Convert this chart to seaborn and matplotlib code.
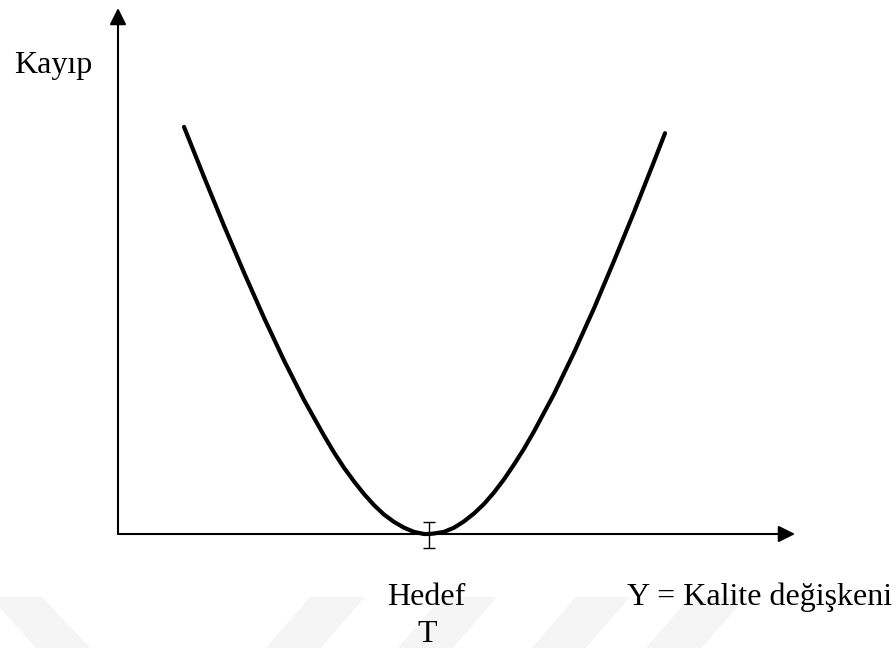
import numpy as np
import pandas as pd
import matplotlib
matplotlib.use("Agg")
import matplotlib.pyplot as plt
from matplotlib.patches import Polygon
import seaborn as sns

# ---- data (x: quality variable, y: loss) ----
target_x = 4.594
curve_x = [0.975, 1.270, 1.566, 1.861, 2.157, 2.452, 2.747, 3.043, 3.191, 3.338,
           3.486, 3.634, 3.781, 3.929, 4.077, 4.225, 4.372, 4.520, 4.594,
           4.668, 4.815, 4.963, 5.111, 5.258, 5.406, 5.554, 5.702, 5.849, 5.997,
           6.145, 6.440, 6.736, 7.031, 7.326, 7.622, 7.917, 8.080]
curve_y = [7.74, 6.79, 5.86, 4.97, 4.11, 3.30, 2.55, 1.87, 1.55, 1.26,
           1.00, 0.76, 0.55, 0.37, 0.23, 0.12, 0.04, 0.00, 0.00,
           0.01, 0.04, 0.12, 0.24, 0.39, 0.57, 0.79, 1.04, 1.32, 1.62,
           1.95, 2.66, 3.45, 4.29, 5.19, 6.12, 7.08, 7.62]
marker_low = 0.266
marker_high = 0.228

label_loss = "Kayıp"
label_target = "Hedef"
label_T = "T"
label_quality = "Y = Kalite değişkeni"

df = pd.DataFrame({"x": curve_x, "y": curve_y})

sns.set_theme(style="white")
plt.rcParams["font.family"] = ["Liberation Serif", "DejaVu Serif"]
plt.rcParams["text.color"] = "black"

W, H = 896, 648
fig = plt.figure(figsize=(W / 100, H / 100), dpi=100)
fig.patch.set_facecolor("white")

# faint watermark bands
bands = [
    [(-10, 597), (42, 597), (92, 650), (38, 650)],
    [(310, 597), (365, 597), (319, 650), (264, 650)],
    [(442, 597), (497, 597), (451, 650), (396, 650)],
    [(576, 597), (630, 597), (584, 650), (530, 650)],
    [(690, 597), (746, 597), (700, 650), (644, 650)],
]
for b in bands:
    pts = np.array([(px / W, 1 - py / H) for px, py in b])
    fig.add_artist(Polygon(pts, closed=True, transform=fig.transFigure,
                           facecolor="#f5f5f5", edgecolor="none", zorder=0))

ax = fig.add_axes([118 / W, (H - 534) / H, (795 - 118) / W, (534 - 8) / H])
ax.set_xlim(0, 10)
ax.set_ylim(0, 10)
ax.axis("off")
ax.patch.set_alpha(0)

# axes with arrow heads
arrow_style = "-|>,head_length=0.5,head_width=0.25"
ax.annotate("", xy=(10, 0), xytext=(0, 0), annotation_clip=False,
            arrowprops=dict(arrowstyle=arrow_style, mutation_scale=20, lw=1.5,
                            color="black", shrinkA=0, shrinkB=0))
ax.annotate("", xy=(0, 10), xytext=(0, 0), annotation_clip=False,
            arrowprops=dict(arrowstyle=arrow_style, mutation_scale=20, lw=1.5,
                            color="black", shrinkA=0, shrinkB=0))

# loss curve
sns.lineplot(data=df, x="x", y="y", ax=ax, color="black", linewidth=3.0,
             estimator=None, sort=False, legend=False)
for ln in ax.get_lines():
    ln.set_solid_capstyle("round")
    ln.set_solid_joinstyle("round")
    ln.set_clip_on(False)

# target marker (I-beam)
ax.errorbar([target_x], [0], yerr=[[marker_low], [marker_high]], fmt="none",
            ecolor="black", elinewidth=1.0, capsize=4.3, capthick=1.0, clip_on=False)

ax.set_xlabel("")
ax.set_ylabel("")

fs = 23
fig.text(14 / W, 1 - 73 / H, label_loss, fontsize=fs, ha="left", va="baseline", color="black")
fig.text(426 / W, 1 - 605 / H, label_target, fontsize=fs, ha="center", va="baseline", color="black")
fig.text(427 / W, 1 - 642 / H, label_T, fontsize=fs, ha="center", va="baseline", color="black")
fig.text(627 / W, 1 - 605 / H, label_quality, fontsize=fs, ha="left", va="baseline", color="black")

fig.savefig("out.png", dpi=100)
